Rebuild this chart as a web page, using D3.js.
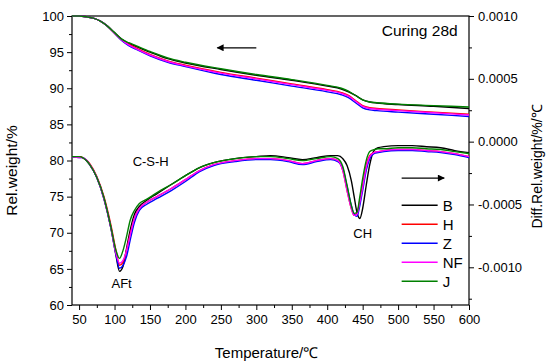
<!DOCTYPE html>
<html>
<head>
<meta charset="utf-8">
<script src="https://cdn.jsdelivr.net/npm/d3@7"></script>
<style>
  body { margin: 0; background: #fff; }
  svg text { font-family: "Liberation Sans", Arial, sans-serif; fill: #000; }
</style>
</head>
<body>
<div id="chart-area"></div>
<script>
// TG / DTG, curing 28d

const series = ["B", "H", "Z", "NF", "J"];
const colors = { B: "#000000", H: "#ff0000", Z: "#0000ff", NF: "#ff00ff", J: "#008000" };

// TG curves (left axis, %)
const tTG = [40, 50, 60, 70, 80, 90, 100, 110, 120, 130, 150, 175, 200, 250, 300, 350, 400, 420, 430, 440, 450, 460, 470, 500, 550, 600];
const tgB  = [100, 100, 99.9, 99.7, 99.3, 98.6, 97.7, 96.8, 96.2, 95.8, 95.0, 94.1, 93.5, 92.6, 91.8, 91.1, 90.3, 89.9, 89.5, 89.0, 88.4, 88.1, 87.95, 87.75, 87.5, 87.2];
const tgH  = [100, 100, 99.9, 99.7, 99.3, 98.6, 97.6, 96.7, 96.1, 95.6, 94.7, 93.8, 93.2, 92.2, 91.4, 90.6, 89.8, 89.4, 89.0, 88.3, 87.6, 87.3, 87.2, 87.0, 86.7, 86.4];
const tgZ  = [100, 100, 99.9, 99.7, 99.3, 98.6, 97.6, 96.6, 95.9, 95.4, 94.5, 93.6, 93.0, 91.9, 91.1, 90.3, 89.5, 89.1, 88.7, 88.0, 87.3, 87.0, 86.9, 86.7, 86.4, 86.1];
const tgNF = [100, 100, 99.9, 99.7, 99.3, 98.6, 97.6, 96.7, 96.0, 95.5, 94.6, 93.7, 93.1, 92.1, 91.3, 90.5, 89.7, 89.3, 88.9, 88.2, 87.5, 87.2, 87.1, 86.9, 86.6, 86.3];
const tgJ  = [100, 100, 99.9, 99.7, 99.3, 98.6, 97.7, 96.8, 96.3, 95.9, 95.1, 94.2, 93.6, 92.7, 91.9, 91.2, 90.4, 90.0, 89.6, 89.0, 88.4, 88.1, 88.0, 87.8, 87.6, 87.4];

// DTG curves (right axis), in units of 1e-4 %/℃
const tDTG = [40, 50, 55, 65, 75, 85, 95, 102, 107, 112, 117, 122, 128, 135, 145, 160, 180, 200, 220, 240, 270, 300, 320, 345, 365, 385, 405, 415, 422, 428, 434, 438, 442, 446, 450, 455, 460, 466, 472, 480, 500, 520, 540, 560, 580, 600];
const dtgB  = [-1.19, -1.19, -1.27, -1.83, -2.86, -4.52, -6.90, -9.05, -10.32, -9.92, -8.49, -7.06, -5.79, -5.16, -4.68, -4.13, -3.41, -2.70, -2.06, -1.67, -1.35, -1.19, -1.11, -1.27, -1.43, -1.27, -1.11, -1.11, -1.35, -1.90, -3.10, -4.37, -5.64, -6.11, -5.32, -3.49, -1.83, -0.71, -0.48, -0.40, -0.32, -0.32, -0.40, -0.48, -0.71, -0.87];
const dtgH  = [-1.19, -1.19, -1.27, -1.75, -2.78, -4.37, -6.67, -8.65, -9.84, -9.60, -8.65, -7.38, -6.11, -5.32, -4.84, -4.37, -3.73, -3.02, -2.30, -1.83, -1.51, -1.35, -1.35, -1.51, -1.75, -1.51, -1.35, -1.51, -2.30, -3.89, -5.32, -5.87, -5.71, -4.68, -3.49, -1.90, -1.11, -0.87, -0.79, -0.71, -0.63, -0.63, -0.71, -0.79, -0.95, -1.19];
const dtgZ  = [-1.19, -1.27, -1.27, -1.83, -2.86, -4.52, -6.90, -8.97, -10.08, -9.84, -9.13, -7.86, -6.43, -5.48, -5.00, -4.52, -3.89, -3.17, -2.38, -1.90, -1.59, -1.43, -1.43, -1.59, -1.83, -1.59, -1.43, -1.59, -2.14, -3.57, -5.08, -5.79, -5.95, -5.08, -3.89, -2.30, -1.35, -0.95, -0.87, -0.79, -0.71, -0.71, -0.79, -0.87, -1.03, -1.27];
const dtgNF = [-1.19, -1.27, -1.27, -1.83, -2.86, -4.52, -6.90, -8.89, -9.68, -9.45, -8.65, -7.46, -6.11, -5.32, -4.84, -4.37, -3.73, -3.02, -2.30, -1.83, -1.51, -1.35, -1.35, -1.51, -1.75, -1.51, -1.35, -1.51, -2.30, -3.89, -5.32, -5.87, -5.79, -4.84, -3.65, -2.06, -1.19, -0.87, -0.79, -0.71, -0.63, -0.63, -0.71, -0.79, -0.95, -1.19];
const dtgJ  = [-1.19, -1.19, -1.27, -1.83, -2.86, -4.44, -6.83, -8.65, -9.29, -8.65, -7.54, -6.27, -5.48, -4.92, -4.60, -4.05, -3.41, -2.70, -2.06, -1.67, -1.35, -1.19, -1.19, -1.35, -1.51, -1.35, -1.19, -1.35, -1.98, -3.49, -5.08, -5.71, -5.64, -4.37, -2.94, -1.51, -0.79, -0.63, -0.56, -0.56, -0.48, -0.48, -0.56, -0.63, -0.79, -0.95];

const tgData  = { B: tgB, H: tgH, Z: tgZ, NF: tgNF, J: tgJ };
const dtgData = { B: dtgB, H: dtgH, Z: dtgZ, NF: dtgNF, J: dtgJ };

// ticks
const xTicks = [50, 100, 150, 200, 250, 300, 350, 400, 450, 500, 550, 600];
const xMinor = [75, 125, 175, 225, 275, 325, 375, 425, 475, 525, 575];
const yLTicks = [60, 65, 70, 75, 80, 85, 90, 95, 100];
const yLMinor = [62.5, 67.5, 72.5, 77.5, 82.5, 87.5, 92.5, 97.5];
const yRTicks = [10, 5, 0, -5, -10];
const yRMinor = [7.5, 2.5, -2.5, -7.5, -12.5];

const W = 550, H = 363;
const margin = { top: 16, right: 81, bottom: 58, left: 72 };
const width = W - margin.left - margin.right,
      height = H - margin.top - margin.bottom;

const svg = d3.select("#chart-area").append("svg")
    .attr("width", W)
    .attr("height", H);

const g = svg.append("g")
    .attr("transform", "translate(" + margin.left + "," + margin.top + ")");

const x = d3.scaleLinear().domain([40, 600]).range([0, width]);
const yL = d3.scaleLinear().domain([60, 100]).range([height, 0]);
const yR = d3.scaleLinear().domain([-13, 10]).range([height, 0]);

function styleAxis(sel) {
  sel.select(".domain").remove();
  sel.selectAll(".tick line").attr("stroke", "#000").attr("stroke-width", 1);
  sel.selectAll(".tick text")
    .style("font-size", "13px")
    .style("font-family", "'Liberation Sans', Arial, sans-serif")
    .attr("fill", "#000");
}

// x-axis
g.append("g")
  .attr("transform", "translate(0," + height + ")")
  .call(d3.axisBottom(x).tickValues(xTicks).tickSize(5).tickPadding(5))
  .call(styleAxis);
g.append("g")
  .attr("transform", "translate(0," + height + ")")
  .call(d3.axisBottom(x).tickValues(xMinor).tickSize(3).tickFormat(""))
  .call(styleAxis);

// left axis
g.append("g")
  .call(d3.axisLeft(yL).tickValues(yLTicks).tickSize(5).tickPadding(3))
  .call(styleAxis);
g.append("g")
  .call(d3.axisLeft(yL).tickValues(yLMinor).tickSize(3).tickFormat(""))
  .call(styleAxis);

// right axis
g.append("g")
  .attr("transform", "translate(" + width + ",0)")
  .call(d3.axisRight(yR).tickValues(yRTicks).tickSize(5).tickPadding(4)
    .tickFormat(d => (d / 1e4).toFixed(4)))
  .call(styleAxis);
g.append("g")
  .attr("transform", "translate(" + width + ",0)")
  .call(d3.axisRight(yR).tickValues(yRMinor).tickSize(3).tickFormat(""))
  .call(styleAxis);

// frame
g.append("rect")
  .attr("width", width)
  .attr("height", height)
  .attr("fill", "none")
  .attr("stroke", "#000")
  .attr("stroke-width", 1.2);

// curves
const lineTG = d3.line()
  .x((d, i) => x(tTG[i]))
  .y(d => yL(d))
  .curve(d3.curveMonotoneX);

const lineDTG = d3.line()
  .x((d, i) => x(tDTG[i]))
  .y(d => yR(d))
  .curve(d3.curveMonotoneX);

series.forEach(s => {
  g.append("path")
    .attr("d", lineTG(tgData[s]))
    .attr("fill", "none")
    .attr("stroke", colors[s])
    .attr("stroke-width", 1.4);
  g.append("path")
    .attr("d", lineDTG(dtgData[s]))
    .attr("fill", "none")
    .attr("stroke", colors[s])
    .attr("stroke-width", 1.4);
});

// arrows
const defs = svg.append("defs");
defs.append("marker")
  .attr("id", "head")
  .attr("viewBox", "0 0 10 10")
  .attr("refX", 9).attr("refY", 5)
  .attr("markerWidth", 9).attr("markerHeight", 7)
  .attr("markerUnits", "userSpaceOnUse")
  .attr("orient", "auto")
  .append("path")
    .attr("d", "M0,0 L10,5 L0,10 Z")
    .attr("fill", "#000");

// TG arrow points to left axis
g.append("line")
  .attr("x1", x(300)).attr("y1", yL(95.6))
  .attr("x2", x(245)).attr("y2", yL(95.6))
  .attr("stroke", "#000").attr("stroke-width", 1.2)
  .attr("marker-end", "url(#head)");

// DTG arrow points to right axis
g.append("line")
  .attr("x1", x(505)).attr("y1", yR(-2.9))
  .attr("x2", x(565)).attr("y2", yR(-2.9))
  .attr("stroke", "#000").attr("stroke-width", 1.2)
  .attr("marker-end", "url(#head)");

// annotations
g.append("text")
  .attr("x", x(477)).attr("y", yL(97.3))
  .style("font-size", "15.5px")
  .text("Curing 28d");

g.append("text")
  .attr("x", x(151)).attr("y", yR(-1.9))
  .attr("text-anchor", "middle")
  .style("font-size", "13px")
  .text("C-S-H");

g.append("text")
  .attr("x", x(110)).attr("y", yL(62.4))
  .attr("text-anchor", "middle")
  .style("font-size", "13px")
  .text("AFt");

g.append("text")
  .attr("x", x(450)).attr("y", yL(69.3))
  .attr("text-anchor", "middle")
  .style("font-size", "13px")
  .text("CH");

// legend
const legend = g.append("g")
  .attr("transform", "translate(" + (x(505) ) + "," + (yL(73.8)) + ")");
series.forEach((s, i) => {
  legend.append("line")
    .attr("x1", 0).attr("x2", 36)
    .attr("y1", i * 19).attr("y2", i * 19)
    .attr("stroke", colors[s])
    .attr("stroke-width", 1.4);
  legend.append("text")
    .attr("x", 41).attr("y", i * 19)
    .attr("dy", "0.36em")
    .style("font-size", "15px")
    .text(s);
});

// axis labels
svg.append("text")
  .attr("x", margin.left + width / 2 - 4)
  .attr("y", 358)
  .attr("text-anchor", "middle")
  .style("font-size", "15px")
  .text("Temperature/℃");

svg.append("text")
  .attr("transform", "translate(17," + (margin.top + height / 2 + 10) + ") rotate(-90)")
  .attr("text-anchor", "middle")
  .style("font-size", "15.5px")
  .text("Rel.weight/%");

svg.append("text")
  .attr("transform", "translate(542," + (margin.top + height / 2 + 6) + ") rotate(-90)")
  .attr("text-anchor", "middle")
  .style("font-size", "14px")
  .text("Diff.Rel.weight/%/℃");
</script>
</body>
</html>
